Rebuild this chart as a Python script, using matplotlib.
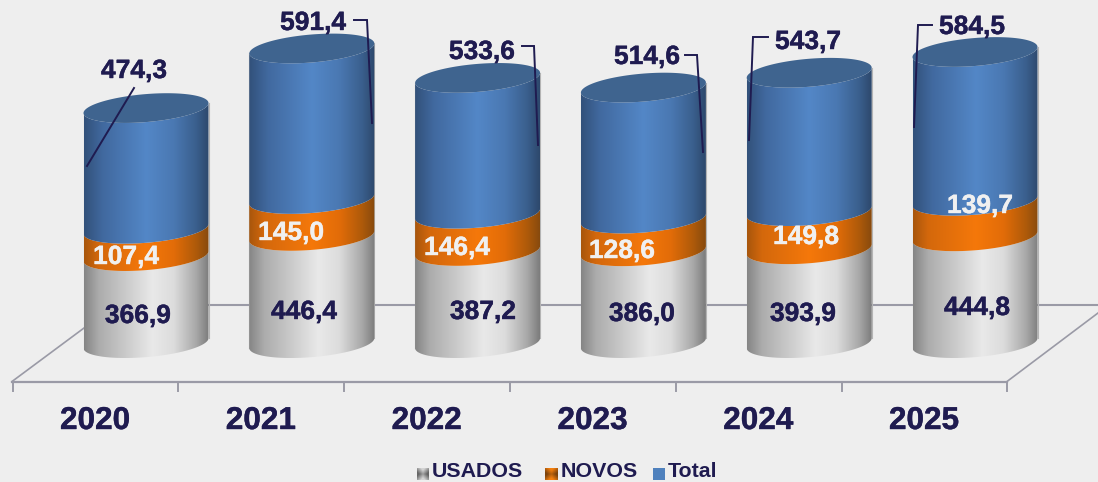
import numpy as np
import matplotlib
matplotlib.use("Agg")
import matplotlib.pyplot as plt
import matplotlib.patheffects as pe
from matplotlib.colors import LinearSegmentedColormap
from matplotlib.patches import Polygon

years = ["2020", "2021", "2022", "2023", "2024", "2025"]
usados = [366.9, 446.4, 387.2, 386.0, 393.9, 444.8]
novos = [107.4, 145.0, 146.4, 128.6, 149.8, 139.7]
total = [474.3, 591.4, 533.6, 514.6, 543.7, 584.5]
series_names = ["USADOS", "NOVOS", "Total"]

# layout, in reference pixels
usados_labels = [(138, 316), (304, 312), (483, 312), (642, 314), (803, 314), (977, 308)]
novos_labels = [(126, 257), (291, 233), (457, 248), (622, 251), (806, 237), (980, 206)]
total_labels = [(134, 71), (313, 23), (482, 52), (647, 57), (808, 42), (972, 27)]
leaders = [
    [(134, 88), (87, 166)],
    [(354, 20), (367, 20), (372, 123)],
    [(522, 46), (534, 46), (538, 145)],
    [(685, 55), (697, 55), (703, 152)],
    [(768, 37), (753, 37), (749, 140)],
    [(932, 25), (918, 25), (914, 127)],
]

W, H = 1098, 482
X0, STEP = 146, 165.8     # centre of first cylinder, spacing
Y0, SCALE = 349.5, 0.2545 # pixel row of value 0, pixels per unit
RX, RY, TILT = 62.5, 14.0, 5.0
FLOOR = 25                # cylinders stand a bit above value 0
BG = "#eeeeee"
NAVY = "#1f1b50"
GRID = "#9a9aa6"

plt.rcParams["font.family"] = ["Liberation Sans", "DejaVu Sans"]

cmaps = [
    LinearSegmentedColormap.from_list("g", [(0, "#858585"), (0.12, "#acacac"), (0.55, "#e9e9e9"), (0.72, "#dcdcdc"), (0.9, "#a8a8a8"), (1, "#7c7c7c")]),
    LinearSegmentedColormap.from_list("o", [(0, "#a8560c"), (0.12, "#d4680c"), (0.5, "#f5780a"), (0.72, "#e26c08"), (0.9, "#ae5a0a"), (1, "#874a0e")]),
    LinearSegmentedColormap.from_list("b", [(0, "#32517a"), (0.15, "#41699f"), (0.5, "#5387c7"), (0.72, "#4a78b2"), (0.9, "#3a5f8d"), (1, "#2d486c")]),
]
key_cmaps = [
    LinearSegmentedColormap.from_list("gk", ["#666666", "#d4d4d4"]),
    LinearSegmentedColormap.from_list("ok", ["#7d430c", "#f5800f"]),
]
top_color = "#3f648f"
total_key = "#4f81bd"


def px(x, y):
    return (x - X0) / STEP, (Y0 - y) / SCALE


def arc(i, value, t):
    # sheared ellipse around the cylinder axis at a given stacked value
    xs = i + RX * np.cos(t) / STEP
    ys = value + (RY * np.sin(t) + TILT * np.cos(t)) / SCALE
    return np.column_stack([xs, ys])


def value_text(pos, v, color):
    ax.text(*px(*pos), f"{v:.1f}".replace(".", ","), color=color, fontsize=19, fontweight="bold",
            ha="center", va="center", zorder=20,
            path_effects=[pe.withStroke(linewidth=0.3, foreground=color)])


fig = plt.figure(figsize=(W / 100, H / 100), dpi=100, facecolor=BG)
ax = fig.add_axes([0, 0, 1, 1])
ax.set_facecolor(BG)
ax.axis("off")

# floor of the chart
ax.plot(*zip(px(12, 381.5), px(1007, 381.5)), color=GRID, lw=1.6, zorder=1)
ax.plot(*zip(px(12, 381.5), px(115, 305)), color=GRID, lw=1.2, zorder=1)
ax.plot(*zip(px(1007, 381.5), px(1098, 313)), color=GRID, lw=1.2, zorder=1)
ax.plot(*zip(px(115, 305), px(1098, 305)), color=GRID, lw=1.5, zorder=1)
for k in range(len(years) + 1):
    tx = 12.5 + k * STEP
    ax.plot(*zip(px(tx, 381.5), px(tx, 391)), color=GRID, lw=1.4, zorder=1)

front = np.linspace(np.pi, 2 * np.pi, 80)
whole = np.linspace(0, 2 * np.pi, 160)
ramp = np.linspace(0, 1, 256).reshape(1, -1)

for i in range(len(years)):
    z = 3 + i
    tops = np.cumsum([usados[i], novos[i], total[i]])
    bottoms = [FLOOR, tops[0], tops[1]]
    # thin edge along the sides
    ax.plot([i - RX / STEP] * 2, [FLOOR - TILT / SCALE, tops[2] - TILT / SCALE], color="#b4b4b4", lw=0.8, zorder=z - 0.5)
    ax.plot([i + RX / STEP] * 2, [FLOOR + TILT / SCALE, tops[2] + TILT / SCALE], color="#b4b4b4", lw=0.8, zorder=z - 0.5)
    for s in range(3):
        lower = arc(i, bottoms[s], front)
        upper = arc(i, tops[s], front)[::-1]
        shape = Polygon(np.vstack([lower, upper]), closed=True, transform=ax.transData, facecolor="none", edgecolor="none")
        ax.add_patch(shape)
        ymin, ymax = bottoms[s] - 30 / SCALE, tops[s] + 30 / SCALE
        im = ax.imshow(ramp, cmap=cmaps[s], vmin=0, vmax=1, aspect="auto", interpolation="bilinear",
                       extent=(i - RX / STEP, i + RX / STEP, ymin, ymax), zorder=z + 0.1 * s)
        im.set_clip_path(shape)
    cap = Polygon(arc(i, tops[2], whole), closed=True, facecolor=top_color, edgecolor="none", zorder=z + 0.5)
    ax.add_patch(cap)

# values
for i in range(len(years)):
    value_text(usados_labels[i], usados[i], NAVY)
    value_text(novos_labels[i], novos[i], "#f0f0f0")
    value_text(total_labels[i], total[i], NAVY)
    pts = [px(*p) for p in leaders[i]]
    ax.plot(*zip(*pts), color=NAVY, lw=1.4, zorder=19, solid_joinstyle="miter")
    ax.text(*px(95 + i * STEP, 421), years[i], color=NAVY, fontsize=22.7, fontweight="bold",
            ha="center", va="center", zorder=20,
            path_effects=[pe.withStroke(linewidth=0.3, foreground=NAVY)])

# legend
key_x = [417, 545, 653]
text_x = [432, 561, 668]
gx, gy = np.meshgrid(np.linspace(-1, 1, 12), np.linspace(-1, 1, 12))
pinch = np.clip((np.abs(gy) - np.abs(gx)) * 0.7 + 0.5, 0, 1)
for s in range(3):
    x0, y0 = px(key_x[s], 480)
    x1, y1 = px(key_x[s] + 12, 468)
    if s == 2:
        ax.add_patch(Polygon([(x0, y0), (x1, y0), (x1, y1), (x0, y1)], closed=True, facecolor=total_key, edgecolor="none", zorder=20))
    else:
        ax.imshow(pinch, cmap=key_cmaps[s], vmin=0, vmax=1, aspect="auto", interpolation="bilinear",
                  extent=(x0, x1, y0, y1), zorder=20)
    ax.text(*px(text_x[s], 471.5), series_names[s], color=NAVY, fontsize=15.4, fontweight="bold",
            ha="left", va="center", zorder=20)

ax.set_xlim(px(0, 0)[0], px(W, 0)[0])
ax.set_ylim(px(0, H)[1], px(0, 0)[1])

fig.savefig("out.png", dpi=100, facecolor=BG)
